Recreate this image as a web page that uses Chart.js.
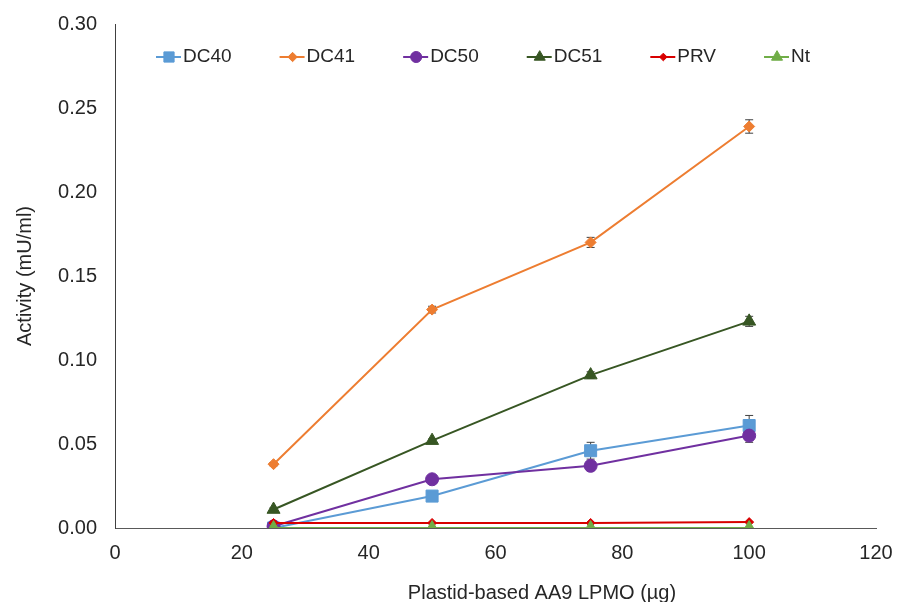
<!DOCTYPE html>
<html>
<head>
<meta charset="utf-8">
<script src="https://cdn.jsdelivr.net/npm/chart.js@4.4.1/dist/chart.umd.min.js"></script>
<style>
  html, body { margin: 0; padding: 0; background: #fff; }
  #chart { display: block; }
</style>
</head>
<body>
<canvas id="chart" width="910" height="602"></canvas>
<script>
// Datos
const xValues = [25, 50, 75, 100];
const seriesNames = ['DC40', 'DC41', 'DC50', 'DC51', 'PRV', 'Nt'];
const dc40 = [0.000, 0.019, 0.046, 0.061];
const dc41 = [0.038, 0.130, 0.170, 0.239];
const dc50 = [0.001, 0.029, 0.037, 0.055];
const dc51 = [0.011, 0.052, 0.091, 0.123];
const prv  = [0.003, 0.003, 0.003, 0.0035];
const nt   = [0.000, 0.000, 0.000, 0.000];
// Barras de error (±)
const dc40Err = [0.000, 0.001, 0.005, 0.006];
const dc41Err = [0.001, 0.002, 0.003, 0.004];
const dc50Err = [0.000, 0.001, 0.002, 0.004];
const dc51Err = [0.001, 0.001, 0.002, 0.003];
const prvErr  = [0, 0, 0, 0];
const ntErr   = [0, 0, 0, 0];
const xTitle = 'Plastid-based AA9 LPMO (µg)';
const yTitle = 'Activity (mU/ml)';

const FONT = "'Liberation Sans', Arial, sans-serif";

function pts(values) {
    return xValues.map((x, i) => ({ x: x, y: values[i] }));
}

function serie(label, values, err, color, style, radius, order) {
    return {
        label: label,
        data: pts(values),
        err: err,
        borderColor: color,
        backgroundColor: color,
        pointBackgroundColor: color,
        pointBorderColor: color,
        pointStyle: style,
        pointRadius: radius,
        pointBorderWidth: 1,
        borderWidth: 2,
        tension: 0,
        order: order
    };
}

const datasets = [
    serie(seriesNames[0], dc40, dc40Err, '#5B9BD5', 'rect', 8.5, 5),
    serie(seriesNames[1], dc41, dc41Err, '#ED7D31', 'rectRot', 5.5, 4),
    serie(seriesNames[2], dc50, dc50Err, '#7030A0', 'circle', 6.5, 3),
    serie(seriesNames[3], dc51, dc51Err, '#375623', 'triangle', 7.5, 2),
    serie(seriesNames[4], prv, prvErr, '#D80000', 'rectRot', 4.5, 1),
    serie(seriesNames[5], nt, ntErr, '#70AD47', 'triangle', 7.5, 0)
];

// Plugin para las barras de error
const errorBars = {
    id: 'errorBars',
    beforeDatasetsDraw(chart) {
        const ctx = chart.ctx;
        const xs = chart.scales.x, ys = chart.scales.y;
        ctx.save();
        ctx.strokeStyle = '#404040';
        ctx.lineWidth = 1;
        chart.data.datasets.forEach(ds => {
            ds.data.forEach((p, i) => {
                const e = ds.err[i];
                if (!e) return;
                const x = xs.getPixelForValue(p.x);
                const y1 = ys.getPixelForValue(p.y - e);
                const y2 = ys.getPixelForValue(p.y + e);
                ctx.beginPath();
                ctx.moveTo(x, y1); ctx.lineTo(x, y2);
                ctx.moveTo(x - 4, y1); ctx.lineTo(x + 4, y1);
                ctx.moveTo(x - 4, y2); ctx.lineTo(x + 4, y2);
                ctx.stroke();
            });
        });
        ctx.restore();
    }
};

// Leyenda estilo Excel (línea + marcador) y título del eje X
const excelLegend = {
    id: 'excelLegend',
    afterDraw(chart) {
        const ctx = chart.ctx;
        ctx.save();
        ctx.font = '19px ' + FONT;
        ctx.textBaseline = 'middle';
        ctx.textAlign = 'left';
        let x = 156;
        const y = 57;
        chart.data.datasets.forEach(ds => {
            ctx.strokeStyle = ds.borderColor;
            ctx.fillStyle = ds.backgroundColor;
            ctx.lineWidth = 2;
            ctx.beginPath();
            ctx.moveTo(x, y); ctx.lineTo(x + 25, y);
            ctx.stroke();
            ctx.lineWidth = 1;
            Chart.helpers.drawPoint(ctx, {
                pointStyle: ds.pointStyle,
                radius: ds.pointRadius * 0.85,
                rotation: 0,
                borderWidth: 1
            }, x + 13, y);
            ctx.fillStyle = '#262626';
            ctx.fillText(ds.label, x + 27, y);
            x += 27 + ctx.measureText(ds.label).width + 48;
        });

        // título del eje X (desplazado a la derecha como en el original)
        ctx.font = '20px ' + FONT;
        ctx.textAlign = 'center';
        ctx.textBaseline = 'alphabetic';
        ctx.fillStyle = '#262626';
        ctx.fillText(xTitle, 542, 599);
        ctx.restore();
    }
};

const ctx = document.getElementById('chart').getContext('2d');
new Chart(ctx, {
    type: 'line',
    data: { datasets: datasets },
    options: {
        responsive: false,
        animation: false,
        maintainAspectRatio: false,
        layout: { padding: { top: 0, right: 34, left: 0, bottom: 0 } },
        plugins: {
            legend: { display: false },
            tooltip: { enabled: false }
        },
        scales: {
            x: {
                type: 'linear',
                min: 0,
                max: 120,
                ticks: { stepSize: 20, padding: 13, maxRotation: 0, color: '#262626', font: { family: FONT, size: 20 } },
                grid: { display: false, drawTicks: false },
                border: { display: true, color: '#595959', width: 1 },
                title: { display: false },
                afterFit(scale) { scale.height = 74; }
            },
            y: {
                min: 0,
                max: 0.30,
                ticks: {
                    stepSize: 0.05,
                    padding: 18,
                    color: '#262626',
                    font: { family: FONT, size: 20 },
                    callback: v => v.toFixed(2)
                },
                grid: { display: false, drawTicks: false },
                border: { display: true, color: '#404040', width: 1 },
                title: {
                    display: true,
                    text: yTitle,
                    color: '#262626',
                    font: { family: FONT, size: 20 },
                    padding: { top: 13, bottom: 0 }
                },
                afterFit(scale) {
                    scale.width = 115;
                    scale.paddingTop = 24;
                }
            }
        }
    },
    plugins: [errorBars, excelLegend]
});
</script>
</body>
</html>
